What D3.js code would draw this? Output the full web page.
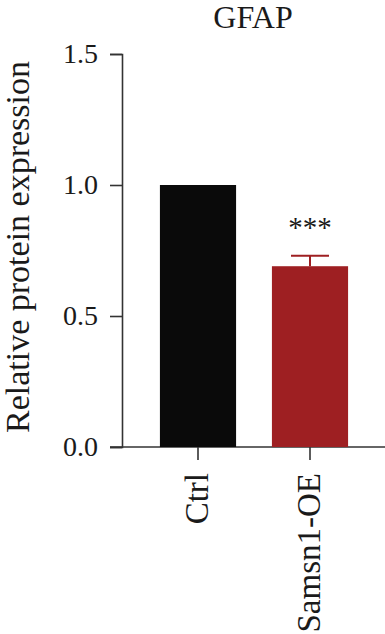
<!DOCTYPE html>
<html>
<head>
<meta charset="utf-8">
<script src="https://cdn.jsdelivr.net/npm/d3@7"></script>
<style>
  body { margin: 0; background: #fff; }
  svg text { font-family: "Liberation Serif", "DejaVu Serif", serif; fill: #1a1a1a; }
</style>
</head>
<body>
<svg id="chart" width="385" height="634"></svg>
<script>
// data
const groups = ["Ctrl", "Samsn1-OE"];
const means = [1.0, 0.69];
const errors = [0, 0.04];
const barColors = ["#0a0a0a", "#9e1f22"];
const yTicks = [0.0, 0.5, 1.0, 1.5];
const signif = ["", "***"];

const svg = d3.select("#chart");

// scales
const y = d3.scaleLinear().domain([0, 1.5]).range([447, 54]);
const x = d3.scaleBand().domain(groups).range([142, 366])
    .paddingInner(0.32).paddingOuter(0.16);

const axisColor = "#333";

// y axis
const yAxis = svg.append("g")
    .attr("transform", "translate(122,0)")
    .call(d3.axisLeft(y).tickValues(yTicks).tickFormat(d3.format(".1f"))
        .tickSize(12).tickPadding(12));
yAxis.select(".domain").attr("stroke", axisColor).attr("stroke-width", 1.6);
yAxis.selectAll(".tick line").attr("stroke", axisColor).attr("stroke-width", 1.6);
yAxis.selectAll(".tick text")
    .attr("font-size", 28)
    .attr("font-family", "Liberation Serif")
    .attr("fill", "#1a1a1a");

// x axis baseline (extends past y axis like the original)
svg.append("line")
    .attr("x1", 110).attr("x2", 385)
    .attr("y1", y(0)).attr("y2", y(0))
    .attr("stroke", axisColor).attr("stroke-width", 1.6);

// bars
svg.selectAll(".bar")
    .data(groups)
    .enter().append("rect")
    .attr("class", "bar")
    .attr("x", d => x(d))
    .attr("width", x.bandwidth())
    .attr("y", (d, i) => y(means[i]))
    .attr("height", (d, i) => y(0) - y(means[i]))
    .attr("fill", (d, i) => barColors[i]);

// error bars (upper only)
groups.forEach((g, i) => {
    if (!errors[i]) return;
    const cx = x(g) + x.bandwidth() / 2;
    svg.append("line")
        .attr("x1", cx).attr("x2", cx)
        .attr("y1", y(means[i])).attr("y2", y(means[i] + errors[i]))
        .attr("stroke", barColors[i]).attr("stroke-width", 2);
    svg.append("line")
        .attr("x1", cx - 19).attr("x2", cx + 19)
        .attr("y1", y(means[i] + errors[i])).attr("y2", y(means[i] + errors[i]))
        .attr("stroke", barColors[i]).attr("stroke-width", 2);
    svg.append("text")
        .attr("x", cx)
        .attr("y", y(means[i] + errors[i]) - 19)
        .attr("text-anchor", "middle")
        .attr("font-size", 29)
        .text(signif[i]);
});

// x ticks and rotated labels
groups.forEach(g => {
    const cx = x(g) + x.bandwidth() / 2;
    svg.append("line")
        .attr("x1", cx).attr("x2", cx)
        .attr("y1", y(0)).attr("y2", y(0) + 13)
        .attr("stroke", axisColor).attr("stroke-width", 1.6);
    svg.append("text")
        .attr("transform", `translate(${cx + 10},${y(0) + 26}) rotate(-90)`)
        .attr("text-anchor", "end")
        .attr("font-size", 33)
        .text(g);
});

// title
svg.append("text")
    .attr("x", 253).attr("y", 28)
    .attr("text-anchor", "middle")
    .attr("font-size", 32)
    .text("GFAP");

// y axis label
svg.append("text")
    .attr("transform", "translate(29,247) rotate(-90)")
    .attr("text-anchor", "middle")
    .attr("font-size", 34)
    .text("Relative protein expression");
</script>
</body>
</html>
